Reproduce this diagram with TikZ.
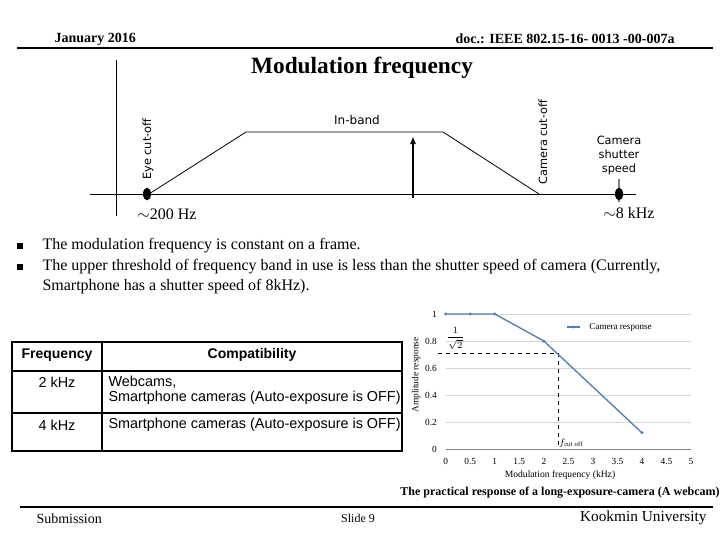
\documentclass[tikz,border=0pt]{standalone}
\usepackage{fontspec}
\setmainfont{Liberation Serif}
\newfontfamily\dejavu{DejaVu Sans}
\newfontfamily\arialfont{Liberation Sans}
\usetikzlibrary{shapes.geometric,arrows.meta}

\definecolor{curveblue}{RGB}{84,124,178}
\definecolor{gridgray}{RGB}{214,214,214}

\tikzset{every picture/.style={line width=0.75pt}}
\tikzset{
  sidelabel/.style={font=\dejavu\fontsize{8.5}{10.5}\selectfont, inner sep=0pt, align=center},
  freqdot/.style={ellipse, fill=black, inner sep=0pt, minimum width=6pt, minimum height=9.5pt},
  bodytext/.style={font=\fontsize{12}{15}\selectfont, inner sep=0pt, anchor=west, align=left},
  cell/.style={font=\arialfont\fontsize{10.8}{11.5}\selectfont, inner sep=0pt},
  headcell/.style={font=\arialfont\bfseries\fontsize{10.5}{12}\selectfont, inner sep=0pt},
  ticklbl/.style={font=\fontsize{7}{9}\selectfont, inner sep=0pt},
  datamark/.style={fill=curveblue},
  rule/.style={line width=1.5pt},
}

\begin{document}
\begin{tikzpicture}[x=0.75pt,y=0.75pt,yscale=-1,xscale=1]
\useasboundingbox (0,0) rectangle (720,540);

% Header
\node[font=\bfseries\fontsize{10.5}{12}\selectfont, anchor=west, inner sep=0pt] (date) at (54,39) {January 2016};
\node[font=\bfseries\fontsize{10.5}{12}\selectfont, anchor=east, inner sep=0pt] (docid) at (675,39) {doc.: IEEE 802.15-16- 0013 -00-007a};
\coordinate (headl) at (17,48);
\coordinate (headr) at (713,48);
\draw[rule] (headl) -- (headr);

% Title
\node[font=\bfseries\fontsize{17.5}{20}\selectfont, inner sep=0pt] (title) at (362,68) {Modulation frequency};

%Straight Lines: axes
\coordinate (ytop) at (116,60);
\coordinate (ybot) at (116,216);
\draw (ytop) -- (ybot);
\coordinate (xl) at (90,194);
\coordinate (xr) at (636,194);
\draw (xl) -- (xr);

%Straight Lines: pass band
\coordinate (b1) at (149,194);
\coordinate (b2) at (246,132);
\coordinate (b3) at (443,132);
\coordinate (b4) at (539,194);
\draw[line width=0.6pt] (b1) -- (b2) -- (b3) -- (b4);

%Arrow
\coordinate (tail) at (413,198);
\coordinate (tip) at (413,136);
\draw[line width=1.5pt, -{Latex[length=6pt,width=4.5pt]}] (tail) -- (tip);

% Dots
\coordinate (shuttop) at (619,179);
\coordinate (shutbot) at (619,202);
\draw[gray, line width=2pt] (shuttop) -- (shutbot);
\node[freqdot] (eyedot) at (147,194) {};
\node[freqdot] (shutdot) at (619,194) {};

% Text Node
\node[sidelabel, rotate=90] (eyelbl) at (148,149) {Eye cut-off};
% Text Node
\node[sidelabel, rotate=90] (camlbl) at (543,142) {Camera cut-off};
% Text Node
\node[sidelabel] (shutlbl) at (619,155) {Camera\\shutter\\speed};
% Text Node
\node[sidelabel, font=\dejavu\fontsize{9}{11}\selectfont] (inband) at (357,120) {In-band};
% Text Node
\node[font=\fontsize{12}{14}\selectfont, inner sep=0pt] (lofreq) at (167,214) {$\sim$200 Hz};
% Text Node
\node[font=\fontsize{12}{14}\selectfont, inner sep=0pt] (hifreq) at (629,213) {$\sim$8 kHz};

% Bullets
\node[fill=black, minimum size=4pt, inner sep=0pt] (sq1) at (20,246) {};
\node[fill=black, minimum size=4pt, inner sep=0pt] (sq2) at (20,267) {};
\node[bodytext] (bul1) at (42,246) {The modulation frequency is constant on a frame.};
\node[bodytext] (bul2) at (42,277) {The upper threshold of frequency band in use is less than the shutter speed of camera (Currently,\\Smartphone has a shutter speed of 8kHz).};

%Shape: Table
\draw[line width=1.2pt] (12,342) rectangle (402,451);
\draw[line width=1.2pt] (12,371) -- (402,371);
\draw[line width=1.2pt] (12,413) -- (402,413);
\draw[line width=1.2pt] (102,342) -- (102,451);
\node[headcell] (freqhd) at (57,355) {Frequency};
\node[headcell] (comphd) at (252,355) {Compatibility};
\node[cell] (freqa) at (57,382) {2 kHz};
\node[cell, anchor=west, align=left] (compa) at (108,390) {Webcams,\\Smartphone cameras (Auto-exposure is OFF)};
\node[cell] (freqb) at (57,425) {4 kHz};
\node[cell, anchor=west] (compb) at (108,425) {Smartphone cameras (Auto-exposure is OFF)};

% Chart
\begin{scope}[shift={(445.7,449)}, x=36.8pt, y=-101.25pt]
  \foreach \g in {0.2,0.4,0.6,0.8,1}
    \draw[gridgray, line width=0.6pt] (0,\g) -- (5,\g);
  \draw[gray, line width=0.6pt] (0,0) -- (5,0);
  \foreach \v/\n in {0/0,0.2/1,0.4/2,0.6/3,0.8/4,1/5}
    \node[ticklbl, anchor=east] (ytick\n) at (-0.17,\v) {\v};
  \foreach \v/\n in {0/0,0.5/1,1/2,1.5/3,2/4,2.5/5,3/6,3.5/7,4/8,4.5/9,5/10}
    \node[ticklbl, anchor=base] (xtick\n) at (\v,-0.115) {\v};
  % dashed cut-off
  \coordinate (cuty) at (-0.15,0.707);
  \coordinate (cut) at (2.3,0.707);
  \coordinate (cutx) at (2.3,0);
  \draw[dashed, line width=1pt] (cuty) -- (cut) -- (cutx);
  % response
  \coordinate (p0) at (0,1);
  \coordinate (p1) at (0.5,1);
  \coordinate (p2) at (1,1);
  \coordinate (p3) at (2,0.8);
  \coordinate (p4) at (4,0.12);
  \draw[curveblue, line width=1pt] (p0) -- (p1) -- (p2) -- (p3) -- (p4);
  \foreach \p in {p0,p1,p2,p3,p4}
    \fill[datamark] (\p) circle [radius=1.2pt];
  % legend
  \coordinate (lega) at (2.47,0.904);
  \coordinate (legb) at (2.735,0.904);
  \coordinate (legm) at (2.6,0.904);
  \draw[curveblue, line width=1pt] (lega) -- (legb);
  \fill[datamark] (legm) circle [radius=1.2pt];
  \node[ticklbl, font=\fontsize{6.8}{8}\selectfont, anchor=west] (legtxt) at (2.92,0.904) {Camera response};
  \node[font=\fontsize{7}{8}\selectfont, inner sep=0pt] (invsqrt) at (0.2,0.82) {$\displaystyle\frac{1}{\sqrt{2}}$};
  \node[ticklbl, anchor=west] (fcut) at (2.3,0.045) {$f_{\mathrm{cut\ off}}$};
\end{scope}
\node[ticklbl, rotate=90] (ampl) at (416,375) {Amplitude response};
\node[ticklbl, font=\fontsize{7.2}{9}\selectfont] (xlabel) at (560,475) {Modulation frequency (kHz)};

% Caption
\node[font=\bfseries\fontsize{9}{10}\selectfont, inner sep=0pt] (caption) at (560,493) {The practical response of a long-exposure-camera (A webcam)};

% Footer
\coordinate (footl) at (20,507);
\coordinate (footr) at (713,507);
\draw[rule] (footl) -- (footr);
\node[font=\fontsize{10.5}{12}\selectfont, anchor=west, inner sep=0pt] (submit) at (36,519) {Submission};
\node[font=\fontsize{9}{12}\selectfont, inner sep=0pt] (slide) at (358,518) {Slide 9};
\node[font=\fontsize{11.5}{12}\selectfont, anchor=east, inner sep=0pt] (univ) at (707,518) {Kookmin University};

\end{tikzpicture}
\end{document}
